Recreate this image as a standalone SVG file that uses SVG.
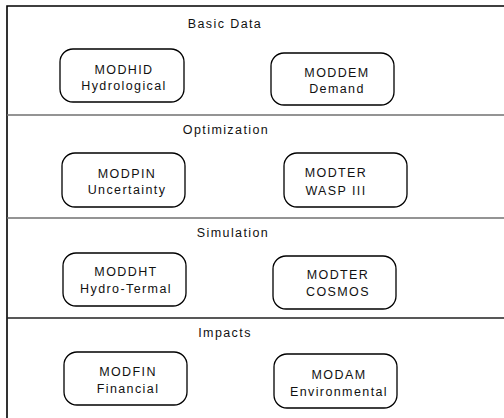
<svg xmlns="http://www.w3.org/2000/svg" width="504" height="418" viewBox="0 0 504 418">
<style>
  .bg { fill: #ffffff; }
  .frame { stroke: #000000; stroke-width: 1.6; fill: none; }
  .sep { stroke: #707070; stroke-width: 1.5; fill: none; }
  .sepd { stroke: #202020; stroke-width: 1.5; fill: none; }
  .node rect { fill: #ffffff; stroke: #000000; stroke-width: 1.3; }
  text { font-family: "Liberation Sans", Arial, sans-serif; font-size: 12.5px; letter-spacing: 1.4px; fill: #111111; text-anchor: middle; }
</style>
<rect class="bg" x="0" y="0" width="504" height="418"/>
<g id="frame">
  <polyline class="frame" points="7,418 7,6 504,6"/>
  <line class="sep" x1="7" y1="115" x2="504" y2="115"/>
  <line class="sep" x1="7" y1="218" x2="504" y2="218"/>
  <line class="sepd" x1="7" y1="318" x2="504" y2="318"/>
</g>
<g id="section-titles">
  <text x="225" y="28">Basic Data</text>
  <text x="226" y="134">Optimization</text>
  <text x="233" y="237">Simulation</text>
  <text x="225" y="337">Impacts</text>
</g>
<g id="connectors"></g>
<g id="modhid" class="node">
  <rect x="60" y="49" width="124" height="53" rx="13"/>
  <text x="124" y="74">MODHID</text>
  <text x="124" y="90">Hydrological</text>
</g>
<g id="moddem" class="node">
  <rect x="271" y="53" width="123" height="52" rx="13"/>
  <text x="337" y="77">MODDEM</text>
  <text x="337" y="93">Demand</text>
</g>
<g id="modpin" class="node">
  <rect x="62" y="153" width="123" height="54" rx="13"/>
  <text x="127" y="178">MODPIN</text>
  <text x="127" y="194">Uncertainty</text>
</g>
<g id="modter-wasp" class="node">
  <rect x="284" y="153" width="123" height="54" rx="13"/>
  <text x="336" y="177">MODTER</text>
  <text x="336" y="195">WASP III</text>
</g>
<g id="moddht" class="node">
  <rect x="63" y="253" width="123" height="53" rx="13"/>
  <text x="126" y="276">MODDHT</text>
  <text x="126" y="293">Hydro-Termal</text>
</g>
<g id="modter-cosmos" class="node">
  <rect x="273" y="256" width="123" height="53" rx="13"/>
  <text x="338" y="279">MODTER</text>
  <text x="338" y="296">COSMOS</text>
</g>
<g id="modfin" class="node">
  <rect x="64" y="352" width="123" height="53" rx="13"/>
  <text x="128" y="376">MODFIN</text>
  <text x="128" y="393">Financial</text>
</g>
<g id="modam" class="node">
  <rect x="274" y="354" width="123" height="54" rx="13"/>
  <text x="339" y="379">MODAM</text>
  <text x="339" y="396">Environmental</text>
</g>
</svg>
